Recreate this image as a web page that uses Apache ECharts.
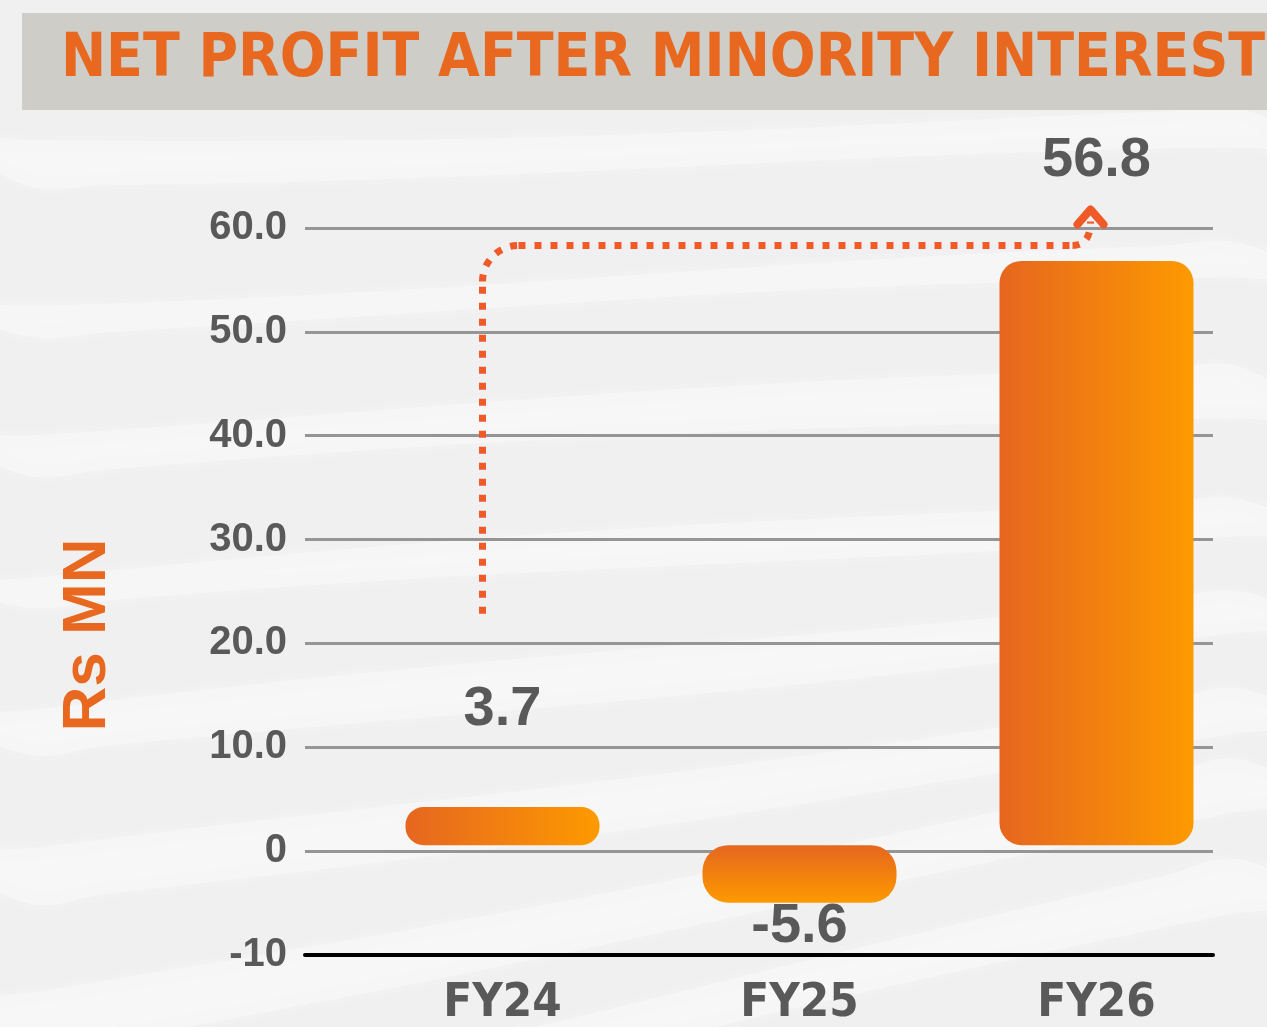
<!DOCTYPE html>
<html>
<head>
<meta charset="utf-8">
<script src="https://cdn.jsdelivr.net/npm/echarts@6/dist/echarts.min.js"></script>
<style>
  html, body { margin: 0; padding: 0; background: #f0f0f0; }
  #chart { width: 1267px; height: 1027px; }
</style>
</head>
<body>
<div id="chart"></div>
<script>
// ---- data ----
const titleText = 'NET PROFIT AFTER MINORITY INTEREST';
const yAxisName = 'Rs MN';
const categories = ['FY24', 'FY25', 'FY26'];
const values = [3.7, -5.6, 56.8];
const yMin = -10, yMax = 60, yStep = 10;
// growth arrow (from FY24 to FY26), in data values
const arrowStartValue = 22.5;
const arrowLevelValue = 58.3;
const arrowTipValue = 61.8;

const ORANGE_D = '#e6661f';
const ORANGE_L = '#fd9a00';
const TEXT_GRAY = '#5a5959';
const COND = '"DejaVu Sans Condensed", "Liberation Sans Narrow", sans-serif';

const chart = echarts.init(document.getElementById('chart'), null, { renderer: 'canvas' });

function hGrad() {
  return new echarts.graphic.LinearGradient(0, 0, 1, 0, [
    { offset: 0, color: ORANGE_D }, { offset: 1, color: ORANGE_L }]);
}
function vGrad() {
  return new echarts.graphic.LinearGradient(0, 0, 0, 1, [
    { offset: 0, color: ORANGE_D }, { offset: 1, color: ORANGE_L }]);
}

// subtle background waves (decoration)
const waves = [];
const W = 1267;
const bands = [
  [140, -0.02, 40], [300, -0.04, 30], [430, -0.05, 45], [580, -0.07, 35],
  [720, -0.11, 45], [860, -0.14, 50], [1000, -0.19, 55], [1140, -0.22, 50]
];
bands.forEach(function (b, i) {
  const pts = [];
  for (let x = -40; x <= W + 40; x += 80) {
    pts.push([x, b[0] + b[1] * x + 8 * Math.sin(x / 300 + i)]);
  }
  for (let x = W + 40; x >= -40; x -= 80) {
    pts.push([x, b[0] + b[1] * x + b[2] + 8 * Math.sin(x / 300 + i + 0.8)]);
  }
  waves.push({
    type: 'polygon', silent: true, z: -10,
    shape: { points: pts, smooth: 0.4 },
    style: { fill: 'rgba(255,255,255,0.35)', shadowBlur: 20, shadowColor: 'rgba(255,255,255,0.6)' }
  });
});

const baseGraphic = waves.concat([
  { type: 'rect', silent: true, z: -5, shape: { x: 22, y: 13, width: 1245, height: 97 },
    style: { fill: '#cecdc8' } },
  { type: 'text', silent: true, z: 5, x: 88, y: 635, rotation: Math.PI / 2,
    style: { text: yAxisName, fill: '#e8681f', fontSize: 62, fontWeight: 'bold',
      fontFamily: '"Liberation Sans", Arial, sans-serif', align: 'center', verticalAlign: 'middle' } }
]);

const option = {
  backgroundColor: '#f0f0f0',
  animation: false,
  title: {
    text: titleText,
    left: 658, top: 25, textAlign: 'center',
    textStyle: { fontFamily: COND, fontWeight: 'bold', fontSize: 60, color: '#e8681f' }
  },
  grid: [
    { left: 305, right: 54, top: 228, bottom: 72 },
    { left: 354, right: 22, top: 228, bottom: 72 }
  ],
  xAxis: [
    { type: 'category', gridIndex: 0, data: categories,
      axisLine: { show: true, onZero: false, lineStyle: { color: '#000', width: 4 } },
      axisTick: { show: false }, axisLabel: { show: false }, splitLine: { show: false } },
    { type: 'category', gridIndex: 1, data: categories,
      axisLine: { show: false }, axisTick: { show: false },
      axisLabel: { margin: 32, color: TEXT_GRAY, fontSize: 47, fontWeight: 'bold', fontFamily: COND } }
  ],
  yAxis: [
    { type: 'value', gridIndex: 0, min: yMin, max: yMax, interval: yStep,
      axisLine: { show: false }, axisTick: { show: false },
      axisLabel: { margin: 18, color: TEXT_GRAY, fontSize: 40, fontWeight: 'bold',
        fontFamily: '"Liberation Sans", Arial, sans-serif',
        formatter: function (v) { return v <= 0 ? String(v) : v.toFixed(1); } },
      splitLine: { show: true, lineStyle: { color: '#959595', width: 3 } } },
    { type: 'value', gridIndex: 1, min: yMin, max: yMax, interval: yStep,
      axisLine: { show: false }, axisTick: { show: false },
      axisLabel: { show: false }, splitLine: { show: false } }
  ],
  series: [{
    type: 'bar', xAxisIndex: 1, yAxisIndex: 1, barWidth: 194,
    data: values.map(function (v, i) {
      const neg = v < 0;
      return {
        value: v,
        itemStyle: { color: i === 1 ? vGrad() : hGrad(), borderRadius: i === 0 ? 18 : (i === 1 ? 26 : 22) },
        label: neg ? { position: 'bottom', distance: -4 } : { position: 'top', distance: i === 0 ? 70 : 72 }
      };
    }),
    label: {
      show: true, color: TEXT_GRAY, fontSize: 56, fontWeight: 'bold',
      fontFamily: '"Liberation Sans", Arial, sans-serif',
      formatter: function (p) { return String(p.value); }
    }
  }],
  graphic: baseGraphic
};
chart.setOption(option);

// growth arrow computed from the chart's own scales
function px(cat, v) { return chart.convertToPixel({ seriesIndex: 0 }, [cat, v]); }
const pStart = px(categories[0], arrowStartValue);
const pLevel = px(categories[0], arrowLevelValue);
const pEnd = px(categories[2], arrowLevelValue);
const pTip = px(categories[2], arrowTipValue);
const xv = pStart[0] - 20, yH = pLevel[1], r = 36;
const xe = pEnd[0] - 6;
const dash = { stroke: '#f05a28', lineWidth: 7, lineDash: [7, 9], fill: null };
chart.setOption({
  graphic: baseGraphic.concat([
    { type: 'line', silent: true, z: 50, shape: { x1: xv, y1: pStart[1], x2: xv, y2: yH + r }, style: dash },
    { type: 'arc', silent: true, z: 50, shape: { cx: xv + r, cy: yH + r, r: r, startAngle: Math.PI, endAngle: Math.PI * 1.5 }, style: dash },
    { type: 'line', silent: true, z: 50, shape: { x1: xv + r, y1: yH, x2: xe - 18, y2: yH }, style: dash },
    { type: 'bezierCurve', silent: true, z: 50, shape: { x1: xe - 18, y1: yH, cpx1: xe, cpy1: yH, x2: xe, y2: pTip[1] + 12 }, style: dash },
    { type: 'polyline', silent: true, z: 50, shape: { points: [[xe - 13, pTip[1] + 15], [xe, pTip[1]], [xe + 13, pTip[1] + 15]] },
      style: { stroke: '#f05a28', lineWidth: 8, lineCap: 'round', lineJoin: 'round', fill: null } }
  ])
});
</script>
</body>
</html>
